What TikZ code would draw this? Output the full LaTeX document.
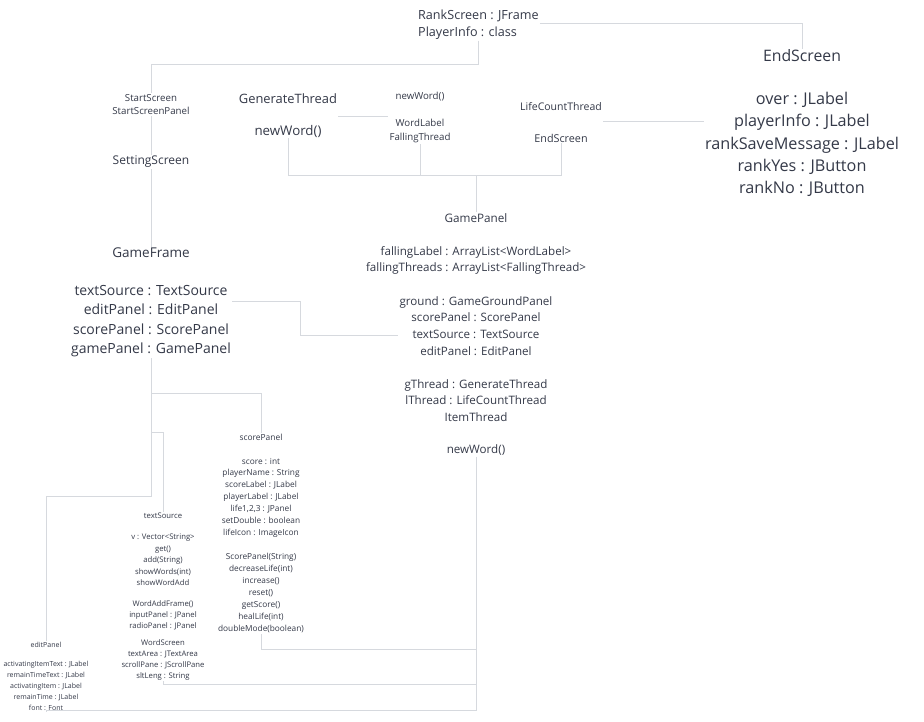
\documentclass[tikz,border=0pt]{standalone}
\usepackage{fontspec}
\setmainfont{Open Sans}
\definecolor{txtc}{RGB}{52,57,72}
\definecolor{linec}{RGB}{214,217,222}
\tikzset{
  f/.style 2 args={font=\fontsize{#1}{#2}\selectfont, text=txtc, align=center, inner sep=1pt},
  conn/.style={draw=linec, line width=0.9pt}
}
\begin{document}
\begin{tikzpicture}[x=1pt,y=-1pt]
\useasboundingbox[fill=white] (0,0) rectangle (924,721);
% top
\node[f={12.6}{17}, align=left, anchor=west] (rank) at (417,24.5) {RankScreen : JFrame\\PlayerInfo : class};
\node[f={15.8}{20}] (endbig) at (802,56) {EndScreen};
\node[f={16.2}{22.2}] (over) at (802,144.5) {over : JLabel\\playerInfo : JLabel\\rankSaveMessage : JLabel\\rankYes : JButton\\rankNo : JButton};
\node[f={9.7}{13}] (start) at (151,104.5) {StartScreen\\StartScreenPanel};
\node[f={12}{14}] (setting) at (151,162) {SettingScreen};
\node[f={12.9}{15}] (gen) at (288,99) {GenerateThread};
\node[f={9.7}{12}] (nwsmall) at (420,97) {newWord()};
\node[f={9.7}{14}] (wl) at (420,131) {WordLabel\\FallingThread};
\node[f={10.5}{13}] (life) at (561,107) {LifeCountThread};
\node[f={13.3}{16}] (nwbig) at (288,131) {newWord()};
\node[f={10.8}{13}] (endmid) at (561,138) {EndScreen};
% GameFrame
\node[f={13.5}{16}] (gframe) at (151,253) {GameFrame};
\node[f={14}{19.4}] (gffields) at (151,321) {textSource : TextSource\\editPanel : EditPanel\\scorePanel : ScorePanel\\gamePanel : GamePanel};
% GamePanel
\node[f={11.7}{14}] (gpanel) at (476,218) {GamePanel};
\node[f={11.6}{16.8}] (gp1) at (476,260.5) {fallingLabel : ArrayList<WordLabel>\\fallingThreads : ArrayList<FallingThread>};
\node[f={11.6}{16.8}] (gp2) at (476,326) {ground : GameGroundPanel\\scorePanel : ScorePanel\\textSource : TextSource\\editPanel : EditPanel};
\node[f={11.6}{16.6}] (gp3) at (476,400.5) {gThread : GenerateThread\\lThread : LifeCountThread\\ItemThread};
\node[f={11.6}{14}] (gpnw) at (476,450) {newWord()};
% scorePanel
\node[f={8.4}{11}] (sp) at (261,437) {scorePanel};
\node[f={8.3}{11.85}] (sp1) at (261,497.5) {score : int\\playerName : String\\scoreLabel : JLabel\\playerLabel : JLabel\\life1,2,3 : JPanel\\setDouble : boolean\\lifeIcon : ImageIcon};
\node[f={8.3}{12}] (sp2) at (261,593) {ScorePanel(String)\\decreaseLife(int)\\increase()\\reset()\\getScore()\\healLife(int)\\doubleMode(boolean)};
% textSource
\node[f={7.7}{10}] (ts) at (163,516) {textSource};
\node[f={7.7}{11.5}] (ts1) at (163,560) {v : Vector<String>\\get()\\add(String)\\showWords(int)\\showWordAdd};
\node[f={7.7}{11}] (ts2) at (163,615) {WordAddFrame()\\inputPanel : JPanel\\radioPanel : JPanel};
\node[f={7.7}{11}] (ts3) at (163,659.5) {WordScreen\\textArea : JTextArea\\scrollPane : JScrollPane\\sltLeng : String};
% editPanel
\node[f={7}{10}] (ep) at (46,645) {editPanel};
\node[f={7}{11}] (ep1) at (46,686) {activatingItemText : JLabel\\remainTimeText : JLabel\\activatingItem : JLabel\\remainTime : JLabel\\font : Font};
% connectors
\draw[conn] (rank.east |- 0,23) -| (endbig.north);
\draw[conn] (rank.south) -- ++(0,24) -| (start.north);
\draw[conn] (start.south) -- (setting.north);
\draw[conn] (setting.south) -- (gframe.north);
\draw[conn] ([yshift=-11pt]gen.south east) -- ([yshift=-11pt]gen.south east -| wl.west);
\draw[conn] ([yshift=-9pt]life.south east) -- ([yshift=-9pt]life.south east -| over.west);
\draw[conn] (nwbig.south) -- ++(0,37) coordinate (b1) -| (endmid.south);
\draw[conn] (wl.south) -- (wl.south |- b1);
\draw[conn] (gpanel.north |- b1) -- (gpanel.north);
\draw[conn] ([yshift=-17pt]gffields.north east) -| ++(68,34) coordinate (b2) -- (b2 -| gp2.west);
\draw[conn] (gffields.south) -- ++(0,35) coordinate (b3) -| (sp.north);
\draw[conn] (b3) -- ++(0,39) coordinate (b4) -| (ts.north);
\draw[conn] (b4) -- ++(0,64) -| (ep.north);
\draw[conn] (gpnw.south) -- ++(0,254) coordinate (b5);
\draw[conn] (sp2.south) -- ++(0,15) coordinate (b6) -- (b6 -| b5);
\draw[conn] (ts3.south) -- ++(0,3) coordinate (b7) -- (b7 -| b5);
\draw[conn] (ep1.south) -- (ep1.south |- b5) -- (b5);
\end{tikzpicture}
\end{document}
